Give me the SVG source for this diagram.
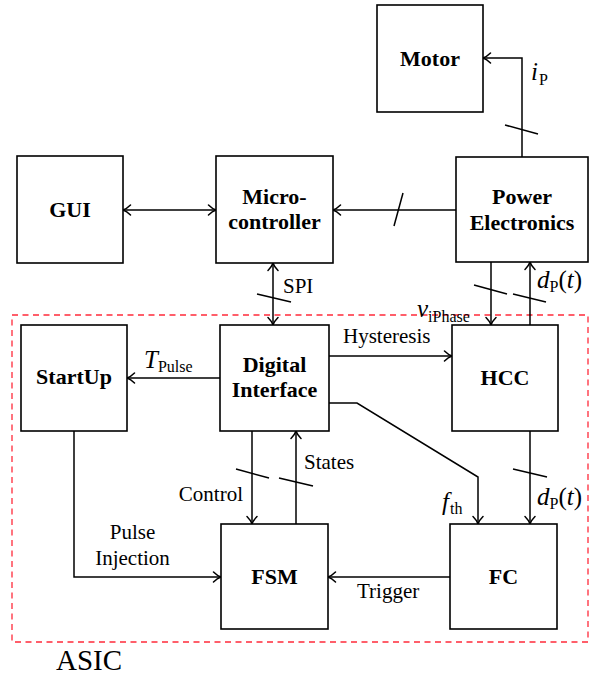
<svg xmlns="http://www.w3.org/2000/svg" width="596" height="677" viewBox="0 0 596 677">
<defs>
<marker id="ah" viewBox="-9 -6 10 12" refX="0" refY="0" markerWidth="10" markerHeight="12" markerUnits="userSpaceOnUse" orient="auto-start-reverse">
<path d="M-7.5,-5 C-4.5,-2 -1.5,-0.5 0,0 C-1.5,0.5 -4.5,2 -7.5,5" fill="none" stroke="#000" stroke-width="1.5" stroke-linecap="round"/>
</marker>
<style>
.box{fill:#fff;stroke:#000;stroke-width:1.6}
.b{font-family:'Liberation Serif','Times New Roman','DejaVu Serif',serif;font-weight:bold;font-size:22px;text-anchor:middle;fill:#000}
.t{font-family:'Liberation Serif','Times New Roman','DejaVu Serif',serif;font-size:21px;fill:#000}
.m{font-size:25px}
.i{font-style:italic}
.s{font-size:16px}
.c{fill:none;stroke:#000;stroke-width:1.5}
.a{marker-end:url(#ah)}
.d{marker-start:url(#ah);marker-end:url(#ah)}
.tick{stroke:#000;stroke-width:1.5}
.asic{fill:none;stroke:#ff2a3a;stroke-width:1.3;stroke-dasharray:6,4.5}
</style>
</defs>
<rect class="asic" x="12" y="315" width="576" height="327"/>
<g id="connectors">
<path class="c a" d="M522,157 V58 H483"/>
<line class="tick" x1="505" y1="125" x2="538" y2="134"/>
<line class="c a" x1="456" y1="210" x2="333" y2="210"/>
<line class="tick" x1="403" y1="193" x2="394" y2="226"/>
<line class="c d" x1="123" y1="210" x2="216" y2="210"/>
<line class="c d" x1="273" y1="263" x2="273" y2="325"/>
<line class="tick" x1="257" y1="294" x2="291" y2="302"/>
<line class="c a" x1="491" y1="262" x2="491" y2="325"/>
<line class="c a" x1="530" y1="325" x2="530" y2="262"/>
<line class="tick" x1="474" y1="285" x2="507" y2="294"/>
<line class="tick" x1="513" y1="294" x2="546" y2="302"/>
<line class="c a" x1="220" y1="378" x2="127" y2="378"/>
<line class="c a" x1="329" y1="356" x2="452" y2="356"/>
<path class="c a" d="M329,403 H357 L478,477 V524"/>
<line class="c a" x1="530" y1="431" x2="530" y2="524"/>
<line class="tick" x1="513" y1="469" x2="547" y2="477"/>
<line class="c a" x1="252" y1="431" x2="252" y2="524"/>
<line class="c a" x1="296" y1="524" x2="296" y2="431"/>
<line class="tick" x1="236" y1="469" x2="269" y2="478"/>
<line class="tick" x1="279" y1="478" x2="313" y2="486"/>
<line class="c a" x1="450" y1="577" x2="328" y2="577"/>
<path class="c a" d="M74,431 V577 H221"/>
</g>
<g id="motor"><rect class="box" x="377" y="5" width="106" height="107"/><text class="b" x="430" y="66">Motor</text></g>
<g id="gui"><rect class="box" x="17" y="156" width="106" height="107"/><text class="b" x="70" y="217">GUI</text></g>
<g id="micro"><rect class="box" x="216" y="156" width="117" height="107"/><text class="b" x="274.5" y="204">Micro-</text><text class="b" x="274.5" y="229">controller</text></g>
<g id="power"><rect class="box" x="456" y="157" width="132" height="105"/><text class="b" x="522" y="204">Power</text><text class="b" x="522" y="230">Electronics</text></g>
<g id="startup"><rect class="box" x="21" y="325" width="106" height="106"/><text class="b" x="74" y="384">StartUp</text></g>
<g id="digital"><rect class="box" x="220" y="325" width="109" height="106"/><text class="b" x="274.5" y="372">Digital</text><text class="b" x="274.5" y="397">Interface</text></g>
<g id="hcc"><rect class="box" x="452" y="325" width="106" height="106"/><text class="b" x="505" y="385">HCC</text></g>
<g id="fsm"><rect class="box" x="221" y="524" width="107" height="105"/><text class="b" x="274.5" y="584">FSM</text></g>
<g id="fc"><rect class="box" x="450" y="524" width="107" height="105"/><text class="b" x="503.5" y="584">FC</text></g>
<g id="labels">
<text class="t m" x="531" y="80"><tspan class="i">i</tspan><tspan class="s" dx="1" dy="5">P</tspan></text>
<text class="t" x="283" y="293">SPI</text>
<text class="t m" x="537" y="288"><tspan class="i">d</tspan><tspan class="s" dy="4">P</tspan><tspan dy="-4">(</tspan><tspan class="i">t</tspan>)</text>
<text class="t m" x="417" y="317"><tspan class="i">v</tspan><tspan class="s" dy="5">iPhase</tspan></text>
<text class="t m" x="144" y="368"><tspan class="i">T</tspan><tspan class="s" dy="4">Pulse</tspan></text>
<text class="t" x="343" y="343">Hysteresis</text>
<text class="t" x="304" y="469">States</text>
<text class="t" x="243" y="501" text-anchor="end">Control</text>
<text class="t m" x="442" y="510"><tspan class="i">f</tspan><tspan class="s" dx="1" dy="4">th</tspan></text>
<text class="t m" x="537" y="505"><tspan class="i">d</tspan><tspan class="s" dy="4">P</tspan><tspan dy="-4">(</tspan><tspan class="i">t</tspan>)</text>
<text class="t" x="132.5" y="539" text-anchor="middle">Pulse</text>
<text class="t" x="132.5" y="565" text-anchor="middle">Injection</text>
<text class="t" x="357" y="598">Trigger</text>
<text class="t" x="56" y="670" style="font-size:29px">ASIC</text>
</g>
</svg>
